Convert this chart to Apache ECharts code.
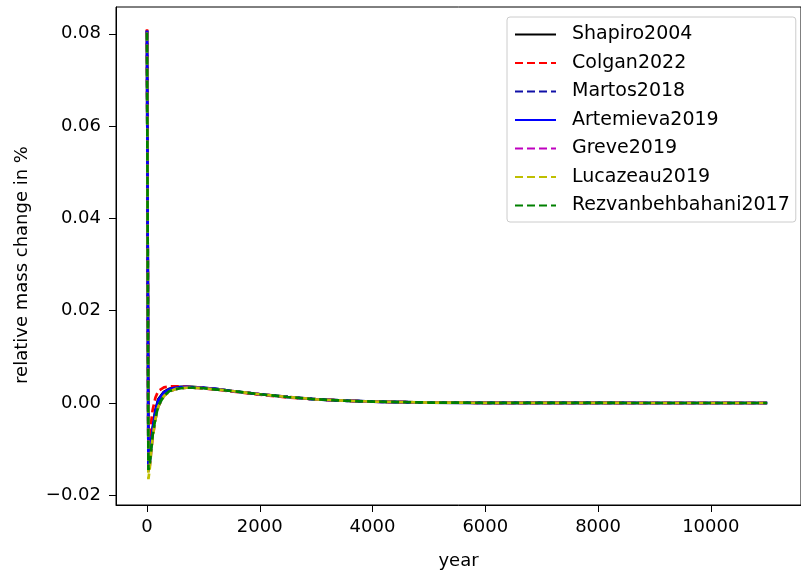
<!DOCTYPE html>
<html>
<head>
<meta charset="utf-8">
<script src="https://cdn.jsdelivr.net/npm/echarts@6/dist/echarts.min.js"></script>
<style>
  html, body { margin: 0; padding: 0; background: #fff; }
  #chart { width: 801px; height: 575px; }
</style>
</head>
<body>
<div id="chart"></div>
<script>
// years the curves are sampled at
const years = [0, 25, 50, 75, 100, 150, 200, 300, 400, 500, 600, 700, 800, 1000, 1250, 1500, 2000, 2500, 3000, 3500, 4000, 5000, 6000, 7000, 8000, 9000, 10000, 11000]

const shapiro2004 = [0.0808, -0.0140, -0.0120, -0.0085, -0.0055, -0.0015, 0.0008, 0.0024, 0.0031, 0.0034, 0.0035, 0.0035, 0.0035, 0.0033, 0.0030, 0.0026, 0.0019, 0.0013, 0.0008, 0.0005, 0.0003, 0.0001, 0.00004, 0.00002, 0.00001, 0, 0, 0]
const colgan2022 = [0.0810, -0.0125, -0.0080, -0.0040, -0.0015, 0.0012, 0.0026, 0.0034, 0.0036, 0.0036, 0.0036, 0.0035, 0.0034, 0.0032, 0.0029, 0.0025, 0.0018, 0.0012, 0.0008, 0.0005, 0.0003, 0.0001, 0.00004, 0.00002, 0.00001, 0, 0, 0]
const martos2018 = [0.0806, -0.0145, -0.0125, -0.0090, -0.0060, -0.0020, 0.0004, 0.0021, 0.0029, 0.0032, 0.0034, 0.0034, 0.0034, 0.0033, 0.0030, 0.0026, 0.0019, 0.0013, 0.0008, 0.0005, 0.0003, 0.0001, 0.00004, 0.00002, 0.00001, 0, 0, 0]
const artemieva2019 = [0.0807, -0.0142, -0.0122, -0.0087, -0.0057, -0.0017, 0.0006, 0.0023, 0.0030, 0.0033, 0.0034, 0.0035, 0.0034, 0.0033, 0.0030, 0.0026, 0.0019, 0.0013, 0.0008, 0.0005, 0.0003, 0.0001, 0.00004, 0.00002, 0.00001, 0, 0, 0]
const greve2019 = [0.0804, -0.0150, -0.0135, -0.0105, -0.0075, -0.0035, -0.0008, 0.0015, 0.0025, 0.0030, 0.0032, 0.0033, 0.0033, 0.0032, 0.0029, 0.0026, 0.0019, 0.0013, 0.0008, 0.0005, 0.0003, 0.0001, 0.00004, 0.00002, 0.00001, 0, 0, 0]
const lucazeau2019 = [0.0802, -0.0165, -0.0140, -0.0105, -0.0075, -0.0035, -0.0008, 0.0015, 0.0025, 0.0030, 0.0032, 0.0033, 0.0033, 0.0032, 0.0029, 0.0026, 0.0019, 0.0013, 0.0008, 0.0005, 0.0003, 0.0001, 0.00004, 0.00002, 0.00001, 0, 0, 0]
const rezvanbehbahani2017 = [0.0803, -0.0145, -0.0130, -0.0100, -0.0070, -0.0032, -0.0006, 0.0016, 0.0026, 0.0030, 0.0032, 0.0033, 0.0033, 0.0032, 0.0029, 0.0026, 0.0019, 0.0013, 0.0008, 0.0005, 0.0003, 0.0001, 0.00004, 0.00002, 0.00001, 0, 0, 0]

const xTicks = [0, 2000, 4000, 6000, 8000, 10000]
const yTicks = [-0.02, 0, 0.02, 0.04, 0.06, 0.08]

const FONT = "DejaVu Sans"

const pair = ys => years.map((x, i) => [x, ys[i]])

const makeSeries = (name, ys, color, dashed) => ({
    name: name,
    type: "line",
    data: pair(ys),
    showSymbol: false,
    symbol: "none",
    lineStyle: {color: color, width: 2.7, type: dashed ? [8, 4] : "solid"},
    itemStyle: {color: color},
    emphasis: {disabled: true}
})

const chart = echarts.init(document.getElementById("chart"))

const option = {
    animation: false,
    backgroundColor: "#fff",
    grid: {
        left: 116, top: 7, right: 0, bottom: 62,
        show: true, borderColor: "#000", borderWidth: 1
    },
    legend: {
        orient: "vertical",
        left: 507, top: 17,
        width: 290,
        padding: [8, 6, 7, 7],
        itemWidth: 41, itemHeight: 14, itemGap: 9.5,
        backgroundColor: "rgba(255,255,255,0.8)",
        borderColor: "#cccccc", borderWidth: 1, borderRadius: 3,
        itemStyle: {opacity: 0},
        textStyle: {fontFamily: FONT, fontSize: 19, lineHeight: 18, color: "#000", padding: [0, 0, 0, 11]},
        data: ["Shapiro2004", "Colgan2022", "Martos2018", "Artemieva2019", "Greve2019", "Lucazeau2019", "Rezvanbehbahani2017"]
    },
    xAxis: {
        type: "value",
        min: -550, max: 11600,
        name: "year",
        nameLocation: "middle",
        nameGap: 47,
        nameTextStyle: {fontFamily: FONT, fontSize: 18, color: "#000"},
        axisLine: {show: true, onZero: false, lineStyle: {color: "#000", width: 1}},
        axisTick: {show: true, inside: false, length: 7, lineStyle: {color: "#000"}, customValues: xTicks},
        axisLabel: {
            fontFamily: FONT, fontSize: 18, color: "#000", margin: 13, customValues: xTicks,
            formatter: v => String(v)
        },
        splitLine: {show: false}
    },
    yAxis: {
        type: "value",
        min: -0.0221, max: 0.0858,
        name: "relative mass change in %",
        nameLocation: "middle",
        nameGap: 85,
        nameTextStyle: {fontFamily: FONT, fontSize: 18, color: "#000", padding: [0, 18, 0, 0]},
        axisLine: {show: true, onZero: false, lineStyle: {color: "#000", width: 1}},
        axisTick: {show: true, inside: false, length: 7, lineStyle: {color: "#000"}, customValues: yTicks},
        axisLabel: {
            fontFamily: FONT, fontSize: 18, color: "#000", margin: 15, customValues: yTicks,
            formatter: v => v.toFixed(2).replace("-", "\u2212")
        },
        splitLine: {show: false}
    },
    series: [
        makeSeries("Shapiro2004", shapiro2004, "#000000", false),
        makeSeries("Colgan2022", colgan2022, "#ff0000", true),
        makeSeries("Martos2018", martos2018, "#1010a8", true),
        makeSeries("Artemieva2019", artemieva2019, "#0000ff", false),
        makeSeries("Greve2019", greve2019, "#bf00bf", true),
        makeSeries("Lucazeau2019", lucazeau2019, "#bfbf00", true),
        makeSeries("Rezvanbehbahani2017", rezvanbehbahani2017, "#008000", true)
    ]
}

chart.setOption(option)
</script>
</body>
</html>
